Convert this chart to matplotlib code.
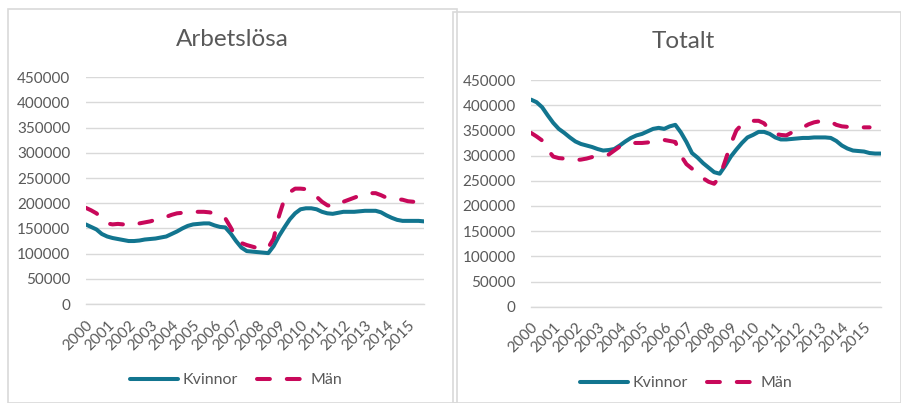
import numpy as np
import matplotlib
matplotlib.use("Agg")
import matplotlib.pyplot as plt
from matplotlib.patches import Rectangle

plt.rcParams['font.family'] = ['Lato', 'DejaVu Sans']

# Quarterly observations 2000Q1 .. 2015Q4 (64 points)
years = [str(y) for y in range(2000, 2016)]

# Arbetslösa (unemployed)
arb_kvinnor = [158000, 153000, 148000, 139000, 134000, 131000, 129000, 127000,
               125000, 125000, 126000, 128000, 129000, 130000, 132000, 134000,
               139000, 144000, 150000, 155000, 158000, 159000, 160000, 160000,
               156000, 153000, 152000, 140000, 125000, 112000, 105000, 104000,
               103000, 102000, 101000, 115000, 135000, 152000, 168000, 180000,
               188000, 190000, 190000, 188000, 183000, 180000, 179000, 181000,
               183000, 183000, 183000, 184000, 185000, 185000, 185000, 182000,
               176000, 171000, 167000, 165000, 165000, 165000, 165000, 164000]
arb_man = [191000, 186000, 180000, 170000, 160000, 158000, 159000, 158000,
           156000, 157000, 160000, 162000, 164000, 167000, 170000, 173000,
           177000, 180000, 181000, 182000, 183000, 183000, 183000, 182000,
           180000, 176000, 170000, 152000, 132000, 121000, 117000, 114000,
           111000, 111000, 112000, 130000, 175000, 208000, 222000, 229000,
           229000, 228000, 222000, 213000, 203000, 196000, 193000, 198000,
           203000, 207000, 211000, 215000, 219000, 220000, 220000, 216000,
           211000, 209000, 208000, 207000, 204000, 203000, np.nan, np.nan]

# Totalt (total)
tot_kvinnor = [411000, 406000, 396000, 380000, 365000, 353000, 345000, 336000,
               328000, 323000, 320000, 317000, 313000, 310000, 311000, 313000,
               320000, 328000, 335000, 340000, 343000, 348000, 353000, 355000,
               353000, 358000, 361000, 346000, 327000, 305000, 296000, 285000,
               276000, 267000, 264000, 280000, 298000, 312000, 325000, 336000,
               341000, 347000, 347000, 343000, 336000, 332000, 332000, 333000,
               334000, 335000, 335000, 336000, 336000, 336000, 335000, 329000,
               320000, 314000, 310000, 309000, 308000, 305000, 304000, 304000]
tot_man = [345000, 338000, 330000, 312000, 298000, 295000, 294000, 292000,
           291000, 292000, 294000, 297000, 300000, 300000, 302000, 310000,
           318000, 323000, 325000, 325000, 325000, 326000, 328000, 330000,
           331000, 329000, 327000, 300000, 283000, 274000, 262000, 255000,
           248000, 244000, 258000, 290000, 323000, 350000, 362000, 367000,
           369000, 369000, 364000, 350000, 343000, 341000, 340000, 346000,
           351000, 356000, 362000, 366000, 368000, 369000, 367000, 361000,
           358000, 357000, 356000, 356000, 356000, 356000, np.nan, np.nan]

yticks = list(range(0, 450001, 50000))

TEAL = '#12758F'
RED = '#C8085A'
GRID = '#D9D9D9'
TXT = '#595959'

W, H = 901, 403
fig = plt.figure(figsize=(W / 100, H / 100), dpi=100)
fig.patch.set_facecolor('white')

# panel borders
for (x0, y0, x1, y1) in [(8, 9, 457, 403), (453, 12, 901, 403)]:
    fig.patches.append(Rectangle((x0 / W, 1 - y1 / H), (x1 - x0) / W, (y1 - y0) / H,
                                 transform=fig.transFigure, fill=False,
                                 edgecolor=GRID, lw=1.2, zorder=0))

panels = [
    dict(title='Arbetslösa', kv=arb_kvinnor, ma=arb_man,
         box=(85.7, 77.3, 424.0, 304.0), title_xy=(232, 40), leg=(236, 380)),
    dict(title='Totalt', kv=tot_kvinnor, ma=tot_man,
         box=(531.0, 80.0, 880.7, 306.7), title_xy=(683, 42), leg=(686, 383)),
]

for p in panels:
    x0, y0, x1, y1 = p['box']
    ax = fig.add_axes([x0 / W, 1 - y1 / H, (x1 - x0) / W, (y1 - y0) / H])
    ax.set_facecolor('none')
    ax.set_zorder(2)
    n = len(p['kv'])
    xs = np.arange(n)
    lk, = ax.plot(xs, p['kv'], color=TEAL, lw=2.9, solid_capstyle='round',
                  solid_joinstyle='round', label='Kvinnor', zorder=3)
    lm, = ax.plot(xs, p['ma'], color=RED, lw=2.9, dashes=(3.2, 4.2),
                  dash_capstyle='round', dash_joinstyle='round', label='Män', zorder=4)
    ax.set_xlim(0, n - 1)
    ax.set_ylim(0, 450000)
    ax.set_yticks(yticks)
    ax.set_yticklabels([str(v) for v in yticks])
    ax.set_xticks(np.arange(0, n, 4))
    ax.set_xticklabels(years, rotation=45, ha='right', va='top', rotation_mode='anchor')
    ax.grid(axis='y', color=GRID, lw=1.0)
    ax.set_axisbelow(True)
    for s in ['top', 'right', 'left']:
        ax.spines[s].set_visible(False)
    ax.spines['bottom'].set_color(GRID)
    ax.spines['bottom'].set_linewidth(1.0)
    ax.tick_params(axis='both', length=0, colors=TXT, labelsize=11)
    ax.tick_params(axis='y', pad=11)
    ax.tick_params(axis='x', pad=10)
    fig.text(p['title_xy'][0] / W, 1 - p['title_xy'][1] / H, p['title'],
             ha='center', va='center', fontsize=17.5, color=TXT)
    fig.legend(handles=[lk, lm], loc='center', ncol=2, frameon=False,
               bbox_to_anchor=(p['leg'][0] / W, 1 - p['leg'][1] / H),
               fontsize=11.5, handlelength=3.0, handletextpad=0.3,
               columnspacing=1.2, labelcolor=TXT)

fig.savefig('out.png', dpi=100, facecolor='white')
